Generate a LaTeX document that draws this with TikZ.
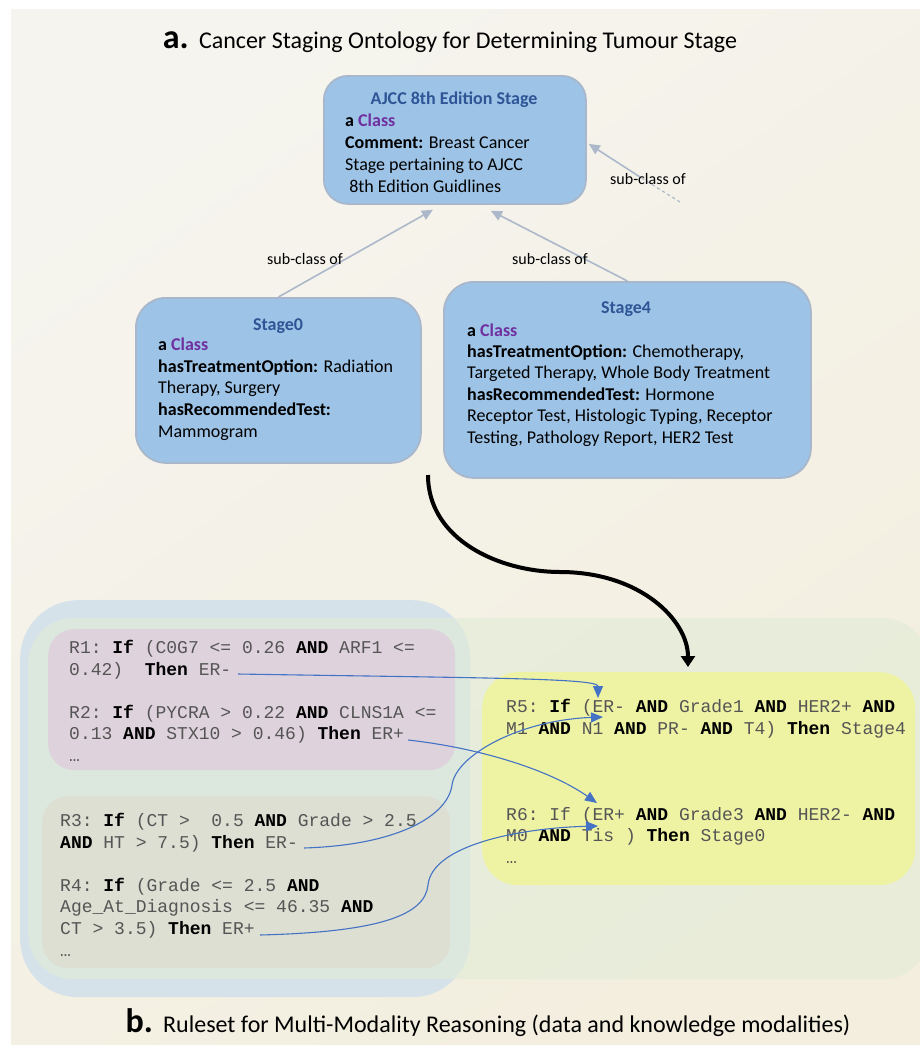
\documentclass[tikz,border=0pt]{standalone}
\usepackage{fontspec}
\setmainfont{Carlito}
\setmonofont{Liberation Mono}
\usetikzlibrary{arrows.meta, positioning, calc}

\definecolor{bgA}{HTML}{F5F4EE}
\definecolor{bgB}{HTML}{F3EEDE}
\definecolor{clsfill}{HTML}{9DC3E6}
\definecolor{clsline}{HTML}{A8B7CC}
\definecolor{clstitle}{HTML}{2F5597}
\definecolor{clspurple}{HTML}{7030A0}
\definecolor{subline}{HTML}{ADB9CA}
\definecolor{outerblue}{HTML}{D6E2EA}
\definecolor{biggreen}{HTML}{E1ECD7}
\definecolor{pinkbox}{HTML}{DED2DC}
\definecolor{greybox}{HTML}{DCDFD2}
\definecolor{yelbox}{HTML}{EEF3A4}
\definecolor{ruleblue}{HTML}{4472C4}
\definecolor{monogray}{HTML}{555555}

\newcommand{\kw}[1]{\textbf{\color{black}#1}}
\newcommand{\cls}{\textbf{a} \textbf{\color{clspurple}Class}}

\begin{document}
\begin{tikzpicture}[x=1pt, y=-1pt,
      cbox/.style={rectangle, draw=clsline, line width=1.8pt, fill=clsfill,
                   rounded corners=24pt, anchor=north west},
      ctitle/.style={font=\fontsize{18}{22}\selectfont\bfseries, text=clstitle,
                     anchor=base, inner sep=0pt},
      cbody/.style={font=\fontsize{18}{21.6}\selectfont, align=left,
                    anchor=base west, inner sep=0pt},
      panel/.style={rectangle, anchor=north west, inner sep=0pt},
      rule/.style={font=\fontsize{18}{21.5}\selectfont\ttfamily, text=monogray,
                   align=left, anchor=base west, inner sep=0pt},
      sub/.style={draw=subline, line width=1.6pt,
                  -{Triangle[length=11pt,width=10pt]}},
      slbl/.style={font=\fontsize{16}{18}\selectfont, inner sep=0pt},
      link/.style={draw=ruleblue, line width=1.1pt,
                   -{Triangle[length=12pt,width=10pt]}},
      big/.style={line width=4pt, -{Triangle[length=11pt,width=14pt]}},
      ttl/.style={anchor=base, inner sep=0pt},
    ]
      \useasboundingbox (0,0) rectangle (920,1045);
      \shade[top color=bgA, bottom color=bgB, shading angle=35] (11,9) rectangle (920,1045);

      \node[ttl] (ta) at (450,48) {\fontsize{34}{34}\selectfont\bfseries a.
        \fontsize{24}{28}\selectfont\mdseries Cancer Staging Ontology for Determining Tumour Stage};

      \node[cbox, minimum width=262, minimum height=128] (ajcc) at (323,75) {};
      \node[ctitle] (ajcct) at (454,104) {AJCC 8th Edition Stage};
      \node[cbody, font=\fontsize{18}{22}\selectfont] (ajccb) at (345,192) {\cls\\
        \textbf{Comment:} Breast Cancer\\
        Stage pertaining to AJCC\\
        \ 8th Edition Guidlines};

      \node[cbox, rounded corners=30pt, minimum width=285, minimum height=165] (st0) at (135,297) {};
      \node[ctitle] (st0t) at (278,330) {Stage0};
      \node[cbody] (st0b) at (158,437) {\cls\\
        \textbf{hasTreatmentOption:} Radiation\\
        Therapy, Surgery\\
        \textbf{hasRecommendedTest:}\\
        Mammogram};

      \node[cbox, rounded corners=30pt, minimum width=367, minimum height=196] (st4) at (443,281) {};
      \node[ctitle] (st4t) at (626,313) {Stage4};
      \node[cbody, font=\fontsize{18}{21.4}\selectfont] (st4b) at (467,443) {\cls\\
        \textbf{hasTreatmentOption:} Chemotherapy,\\
        Targeted Therapy, Whole Body Treatment\\
        \textbf{hasRecommendedTest:} Hormone\\
        Receptor Test, Histologic Typing, Receptor\\
        Testing, Pathology Report, HER2 Test};

      \coordinate (up) at (680,202);
      \coordinate (mid) at (640,177);
      \draw[sub] (st0.north) -- ($(ajcc.south)+(-22,5)$);
      \draw[sub] (st4.north) -- ($(ajcc.south)+(36,6)$);
      \draw[subline, line width=1.2pt, dashed] (up) -- (mid);
      \draw[sub] (mid) -- ($(ajcc.east)+(2,4)$);
      \node[slbl] (l0) at (305,259) {sub-class of};
      \node[slbl] (l4) at (550,259) {sub-class of};
      \node[slbl] (l9) at (648,179) {sub-class of};

      \node[panel, fill=outerblue, rounded corners=58pt, minimum width=450, minimum height=397] (outer) at (20,600) {};
      \node[panel, fill=biggreen, fill opacity=0.6, rounded corners=45pt, minimum width=900, minimum height=361] (mods) at (28,618) {};
      \node[panel, fill=pinkbox, rounded corners=26pt, minimum width=407, minimum height=141] (pk) at (48,629) {};
      \node[panel, fill=greybox, rounded corners=26pt, minimum width=408, minimum height=172] (gy) at (42,796) {};
      \node[panel, fill=yelbox, rounded corners=36pt, minimum width=433, minimum height=213] (yl) at (482,672) {};

      \node[rule] (r12) at (69,761) {R1: \kw{If} (C0G7 <= 0.26 \kw{AND} ARF1 <=\\
        0.42)\ \ \kw{Then} ER-\\[21.5pt]
        R2: \kw{If} (PYCRA > 0.22 \kw{AND} CLNS1A <=\\
        0.13 \kw{AND} STX10 > 0.46) \kw{Then} ER+\\
        …};
      \node[rule, font=\fontsize{18}{21.6}\selectfont\ttfamily] (r34) at (60,956) {R3: \kw{If} (CT >\ \ 0.5 \kw{AND} Grade > 2.5\\
        \kw{AND} HT > 7.5) \kw{Then} ER-\\[21.6pt]
        R4: \kw{If} (Grade <= 2.5 \kw{AND}\\
        Age\_At\_Diagnosis <= 46.35 \kw{AND}\\
        CT > 3.5) \kw{Then} ER+\\
        …};
      \node[rule] (r56) at (506,863) {R5: \kw{If} (ER- \kw{AND} Grade1 \kw{AND} HER2+ \kw{AND}\\
        M1 \kw{AND} N1 \kw{AND} PR- \kw{AND} T4) \kw{Then} Stage4\\[64.5pt]
        R6: If (ER+ \kw{AND} Grade3 \kw{AND} HER2- \kw{AND}\\
        M0 \kw{AND} Tis ) \kw{Then} Stage0\\
        …};

      \coordinate (o1) at (238,674);
      \coordinate (o2) at (408,740);
      \coordinate (o3) at (304,848);
      \coordinate (o4) at (260,935);
      \coordinate (i5a) at (598,698);
      \coordinate (i5b) at (603,717);
      \coordinate (i6a) at (597,803);
      \coordinate (i6b) at (598,826);
      \draw[link] (o1) .. controls (480,678) and (598,678) .. (i5a);
      \draw[link] (o2) .. controls (480,748) and (550,770) .. (i6a);
      \draw[link] (o3) .. controls (400,845) and (448,815) .. (452,785)
                       .. controls (456,755) and (520,720) .. (i5b);
      \draw[link] (o4) .. controls (380,932) and (425,915) .. (428,885)
                       .. controls (432,845) and (520,828) .. (i6b);

      \coordinate (go) at (428,475);
      \coordinate (gi) at (688,667);
      \draw[big] (go) .. controls (428,540) and (500,572) .. (560,572)
                 .. controls (640,572) and (688,620) .. (gi);

      \node[ttl] (tb) at (488,1032) {\fontsize{34}{34}\selectfont\bfseries b.
        \fontsize{24}{28}\selectfont\mdseries Ruleset for Multi-Modality Reasoning (data and knowledge modalities)};
    \end{tikzpicture}
\end{document}
